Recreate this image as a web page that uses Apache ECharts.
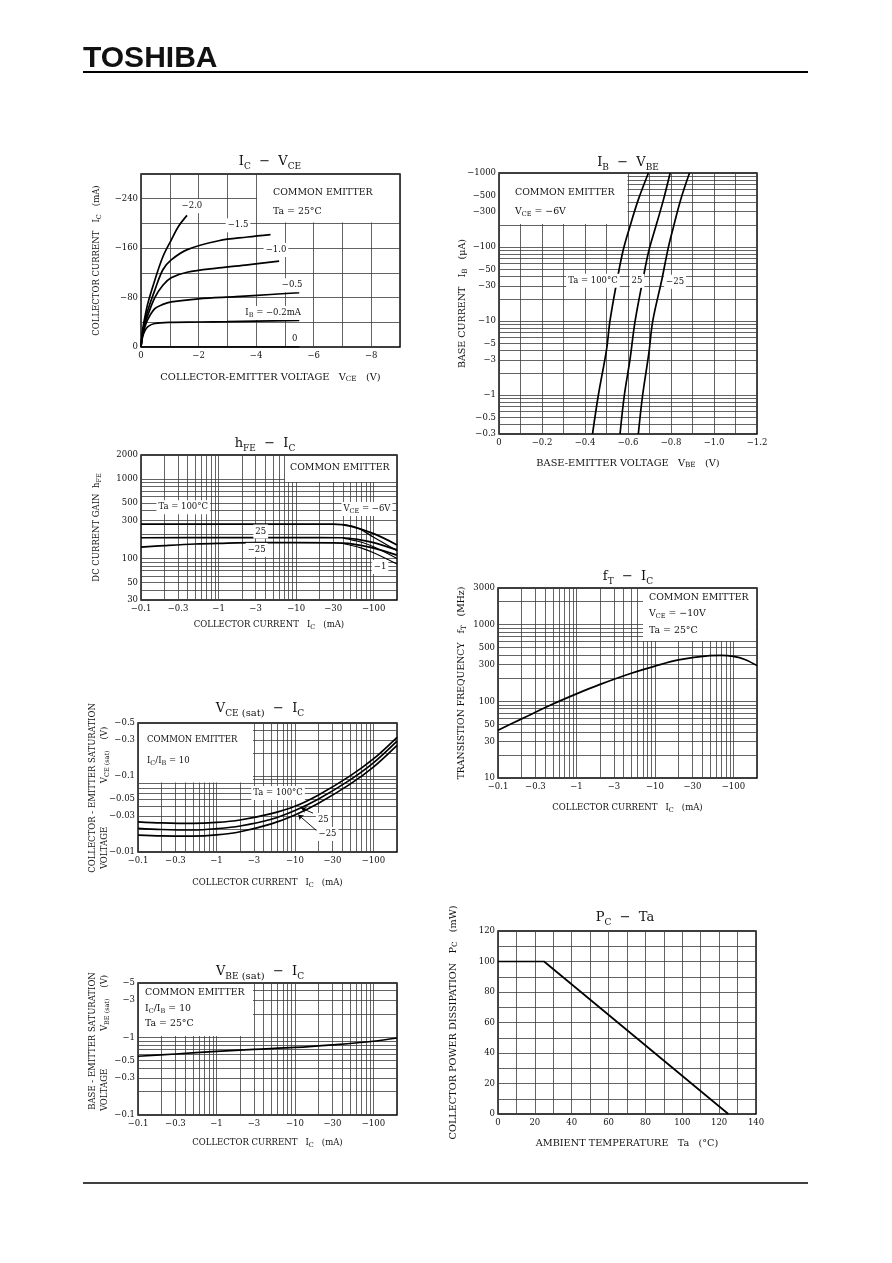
<!DOCTYPE html>
<html><head><meta charset="utf-8">
<script src="https://cdn.jsdelivr.net/npm/echarts@6/dist/echarts.min.js"></script>
<style>html,body{margin:0;padding:0;background:#fff;}#c{width:892px;height:1263px;}</style>
</head><body><div id="c"></div>
<script>
// ================= DATA (PNP transistor: currents / voltages are negative) =================
// --- IC – VCE : [VCE (V), IC (mA)], one curve per base current IB ---
const icVceIB = ['0', '-0.2', '-0.5', '-1.0', '-1.5', '-2.0'];
const icVce_IB0  = [[0,0],[-5.5,0]];
const icVce_IB02 = [[0,0],[-0.05,-15],[-0.12,-25],[-0.24,-33],[-0.48,-38],[-1.0,-40],[-2.0,-40.5],[-3.0,-41],[-4.0,-42],[-5.5,-43]];
const icVce_IB05 = [[0,0],[-0.05,-18],[-0.12,-30],[-0.24,-45],[-0.48,-62],[-0.76,-69],[-1.05,-73],[-2.0,-78],[-3.3,-81.5],[-4.5,-85],[-5.5,-88]];
const icVce_IB10 = [[0,0],[-0.05,-20],[-0.12,-35],[-0.24,-52],[-0.48,-80],[-0.76,-100],[-1.05,-112],[-1.6,-121],[-2.7,-128],[-3.7,-133],[-4.8,-139]];
const icVce_IB15 = [[0,0],[-0.05,-22],[-0.12,-40],[-0.24,-60],[-0.48,-92],[-0.76,-125],[-1.05,-141],[-1.63,-158],[-2.7,-172],[-3.7,-178],[-4.5,-182]];
const icVce_IB20 = [[0,0],[-0.05,-25],[-0.12,-45],[-0.24,-71],[-0.48,-108],[-0.76,-146],[-1.05,-173],[-1.3,-195],[-1.6,-213]];
const icVceTicksX = [0,-2,-4,-6,-8];
const icVceTicksY = [0,-80,-160,-240];

// --- IB – VBE : [VBE (V), IB (uA)] per ambient temperature ---
const ibVbeTa = ['100', '25', '-25'];
const ibVbe_100 = [[-0.435,-0.3],[-0.462,-1],[-0.50,-4.1],[-0.516,-10],[-0.547,-33],[-0.578,-92],[-0.609,-190],[-0.648,-437],[-0.695,-1000]];
const ibVbe_25  = [[-0.563,-0.3],[-0.583,-1],[-0.609,-3],[-0.633,-10],[-0.672,-40],[-0.698,-92],[-0.734,-211],[-0.765,-437],[-0.796,-1000]];
const ibVbe_m25 = [[-0.648,-0.3],[-0.668,-1],[-0.697,-3.7],[-0.715,-10],[-0.757,-36],[-0.788,-100],[-0.812,-190],[-0.845,-437],[-0.886,-1000]];
const ibVbeTicksX = [0,-0.2,-0.4,-0.6,-0.8,-1.0,-1.2];
const ibVbeTicksY = [-0.3,-0.5,-1,-3,-5,-10,-30,-50,-100,-300,-500,-1000];

// --- hFE – IC : [IC (mA), hFE] ---
const hfe_100_6V = [[-0.1,270],[-1,270],[-10,270],[-30,270],[-50,255],[-100,205],[-200,148]];
const hfe_100_1V = [[-40,268],[-60,245],[-100,185],[-200,125]];
const hfe_25_6V  = [[-0.1,182],[-1,183],[-10,183],[-40,182],[-70,170],[-100,158],[-200,128]];
const hfe_25_1V  = [[-40,180],[-70,160],[-100,140],[-200,100]];
const hfe_m25_6V = [[-0.1,139],[-0.2,145],[-0.5,152],[-1,155],[-3,158],[-10,158],[-40,156],[-100,135],[-200,110]];
const hfe_m25_1V = [[-40,154],[-70,135],[-100,118],[-200,85]];
const icLogTicks = [-0.1,-0.3,-1,-3,-10,-30,-100];
const hfeTicksY  = [30,50,100,300,500,1000,2000];

// --- VCE(sat) – IC : [IC (mA), VCE(sat) (V)] ---
const vcesat_100 = [[-0.1,-0.025],[-0.2,-0.0242],[-0.5,-0.0238],[-1,-0.0245],[-2,-0.0264],[-5,-0.032],[-10,-0.0400],[-20,-0.0565],[-50,-0.0998],[-100,-0.168],[-200,-0.324]];
const vcesat_25  = [[-0.1,-0.0205],[-0.2,-0.0198],[-0.5,-0.0195],[-1,-0.0203],[-2,-0.022],[-5,-0.027],[-10,-0.0352],[-20,-0.050],[-50,-0.0885],[-100,-0.149],[-200,-0.288]];
const vcesat_m25 = [[-0.1,-0.0167],[-0.2,-0.0163],[-0.5,-0.0162],[-1,-0.0168],[-2,-0.0185],[-5,-0.0235],[-10,-0.0308],[-20,-0.044],[-50,-0.0778],[-100,-0.131],[-200,-0.253]];
const vcesatTicksY = [-0.01,-0.03,-0.05,-0.1,-0.3,-0.5];

// --- fT – IC : [IC (mA), fT (MHz)] ---
const ftData = [[-0.1,42],[-0.2,59],[-0.5,92],[-1,125],[-2,166],[-5,232],[-10,288],[-20,347],[-50,394],[-70,398],[-100,385],[-140,351],[-200,292]];
const ftTicksY = [10,30,50,100,300,500,1000,3000];

// --- VBE(sat) – IC : [IC (mA), VBE(sat) (V)] ---
const vbesatData = [[-0.1,-0.57],[-0.3,-0.61],[-1,-0.66],[-3,-0.70],[-10,-0.74],[-30,-0.80],[-100,-0.89],[-200,-0.98]];
const vbesatTicksY = [-0.1,-0.3,-0.5,-1,-3,-5];

// --- PC – Ta : [Ta (degC), PC (mW)] ---
const pcData = [[0,100],[25,100],[125,0]];
const pcTicksX = [0,20,40,60,80,100,120,140];
const pcTicksY = [0,20,40,60,80,100,120];

// ================= STYLE / LAYOUT =================
const FONT = '"DejaVu Serif", "Liberation Serif", serif';
const INK = '#111';
const GRIDC = '#3c3c3c';
const SUB = {fontFamily: FONT, fontSize: 6.5, lineHeight: 6, verticalAlign: 'bottom', color: INK};
const RICH = {s: SUB};
const RICH_BIG = {s: {fontFamily: FONT, fontSize: 7.2, lineHeight: 6, verticalAlign: 'bottom', color: INK}};
const TRICH = {
  t: {fontFamily: FONT, fontSize: 9, lineHeight: 9, verticalAlign: 'bottom', color: INK},
  u: {fontFamily: FONT, fontSize: 10, lineHeight: 14, verticalAlign: 'bottom', color: INK}
};
const grids = [
  {left:141, top:174, width:259, height:173}, // 0 IC-VCE
  {left:499, top:173, width:258, height:261}, // 1 IB-VBE
  {left:141, top:455, width:256, height:145}, // 2 hFE-IC
  {left:138, top:723, width:259, height:129}, // 3 VCE(sat)-IC
  {left:498, top:588, width:259, height:190}, // 4 fT-IC
  {left:138, top:983, width:259, height:132}, // 5 VBE(sat)-IC
  {left:498, top:931, width:258, height:183}  // 6 PC-Ta
];

function neg(v) {
  if (Math.abs(v) < 1e-12) return '0';
  const a = +Math.abs(v).toPrecision(4);
  return (v < 0 ? '\u2212' : '') + a;
}
function decadeLines(lo, hi) {
  const out = [];
  for (let e = Math.floor(Math.log10(lo)) - 1; e <= Math.ceil(Math.log10(hi)); e++) {
    for (let m = 1; m <= 9; m++) {
      const v = +(m * Math.pow(10, e)).toPrecision(6);
      if (v >= lo * 0.9999 && v <= hi * 1.0001) out.push(v);
    }
  }
  return out;
}
const abs2 = d => d.map(p => [Math.abs(p[0]), Math.abs(p[1])]);
const absY = d => d.map(p => [p[0], Math.abs(p[1])]);
const absX = d => d.map(p => [Math.abs(p[0]), p[1]]);

const labelBase = {fontFamily: FONT, fontSize: 8.5, color: INK, hideOverlap: false, showMinLabel: true, showMaxLabel: true};

function common(gi, o) {
  const ns = o.nsize || 8.5;
  return {
    gridIndex: gi,
    axisLine: {show: false},
    splitLine: {show: true, lineStyle: {color: GRIDC, width: 0.8}},
    name: o.name || '', nameLocation: 'middle', nameGap: o.gap || 20, nameRotate: o.rot || 0,
    nameTextStyle: {fontFamily: FONT, fontSize: ns, color: INK, lineHeight: 12, rich: ns > 9 ? RICH_BIG : RICH},
    nameMoveOverlap: false
  };
}
function linAxis(gi, o) {
  return Object.assign(common(gi, o), {
    type: 'value', min: o.min, max: o.max, interval: o.interval, inverse: !!o.inverse,
    axisTick: {show: false},
    axisLabel: Object.assign({}, labelBase, {margin: o.margin || 4,
      formatter: v => o.labels.some(t => Math.abs(t - v) < 1e-6) ? o.fmt(v) : ''})
  });
}
function logAxis(gi, o) {
  return Object.assign(common(gi, o), {
    type: 'log', logBase: 10, min: o.min, max: o.max,
    axisTick: {show: false, customValues: decadeLines(o.min, o.max)},
    axisLabel: Object.assign({}, labelBase, {margin: o.margin || 4, customValues: o.labels, formatter: o.fmt})
  });
}
const negFmt = v => neg(-v);   // log axes hold magnitudes of negative quantities
const posFmt = v => String(+(+v).toPrecision(4));
const ICNAME = 'COLLECTOR CURRENT   I{s|C}   (mA)';

const xAxis = [
  linAxis(0, {min:-9, max:0, interval:1, inverse:true, labels: icVceTicksX, fmt: neg, name:'COLLECTOR-EMITTER VOLTAGE   V{s|CE}   (V)', gap:24, nsize:9.8}),
  linAxis(1, {min:-1.2, max:0, interval:0.1, inverse:true, labels: ibVbeTicksX, fmt: v => Math.abs(v) < 1e-9 ? '0' : '\u2212' + Math.abs(v).toFixed(1), name:'BASE-EMITTER VOLTAGE   V{s|BE}   (V)', gap:23, nsize:9.8}),
  logAxis(2, {min:0.1, max:200, labels: icLogTicks.map(Math.abs), fmt: negFmt, name: ICNAME, gap:19}),
  logAxis(3, {min:0.1, max:200, labels: icLogTicks.map(Math.abs), fmt: negFmt, name: ICNAME, gap:25}),
  logAxis(4, {min:0.1, max:200, labels: icLogTicks.map(Math.abs), fmt: negFmt, name: ICNAME, gap:24}),
  logAxis(5, {min:0.1, max:200, labels: icLogTicks.map(Math.abs), fmt: negFmt, name: ICNAME, gap:22}),
  linAxis(6, {min:0, max:140, interval:10, labels: pcTicksX, fmt: posFmt, name:'AMBIENT TEMPERATURE   Ta   (\u00b0C)', gap:23, nsize:9.7})
];
const yAxis = [
  linAxis(0, {min:-280, max:0, interval:40, inverse:true, labels: icVceTicksY, fmt: neg, name:'COLLECTOR CURRENT   I{s|C}   (mA)', gap:38, rot:90, margin:3}),
  logAxis(1, {min:0.3, max:1000, labels: ibVbeTicksY.map(Math.abs), fmt: negFmt, name:'BASE CURRENT   I{s|B}   (\u03bcA)', gap:30, rot:90, margin:3, nsize:9.5}),
  logAxis(2, {min:30, max:2000, labels: hfeTicksY, fmt: posFmt, name:'DC CURRENT GAIN  h{s|FE}', gap:38, rot:90, margin:3}),
  logAxis(3, {min:0.01, max:0.5, labels: vcesatTicksY.map(Math.abs), fmt: negFmt, margin:3}),
  logAxis(4, {min:10, max:3000, labels: ftTicksY, fmt: posFmt, name:'TRANSISTION FREQUENCY   f{s|T}   (MHz)', gap:30, rot:90, margin:3, nsize:9.3}),
  logAxis(5, {min:0.1, max:5, labels: vbesatTicksY.map(Math.abs), fmt: negFmt, margin:3}),
  linAxis(6, {min:0, max:120, interval:10, labels: pcTicksY, fmt: posFmt, name:'COLLECTOR POWER DISSIPATION   P{s|C}   (mW)', gap:39, rot:90, margin:3, nsize:9.7})
];

// ================= SERIES =================
const series = [];
function curve(gi, data, extra) {
  const s = Object.assign({
    type: 'line', xAxisIndex: gi, yAxisIndex: gi, data, symbol: 'none', showSymbol: false,
    smooth: 0.35, silent: true, animation: false, z: 3, clip: true,
    lineStyle: {color: '#000', width: 1.7}
  }, extra || {});
  series.push(s);
  return s;
}
function tags(items) {
  return {
    symbol: 'rect', symbolSize: 0, silent: true, animation: false, z: 7,
    itemStyle: {color: 'rgba(0,0,0,0)'},
    data: items.map(it => ({coord: it[0], value: 0, label: {
      show: true, position: 'inside', formatter: it[1], fontFamily: FONT, fontSize: 8.5, color: INK,
      backgroundColor: '#fff', padding: [1, 2], lineHeight: 12, rich: RICH}}))
  };
}
function arrows(pairs) {
  return {
    silent: true, animation: false, symbol: ['none', 'arrow'], symbolSize: 5,
    label: {show: false}, lineStyle: {color: '#000', width: 0.9, type: 'solid'},
    data: pairs.map(p => [{coord: p[0]}, {coord: p[1]}])
  };
}

// chart 0: IC-VCE
curve(0, icVce_IB0, {smooth: false});
curve(0, icVce_IB02);
curve(0, icVce_IB05);
curve(0, icVce_IB10);
curve(0, icVce_IB15);
curve(0, icVce_IB20, {markPoint: tags([
  [[-1.77,-228], '\u2212' + icVceIB[5].slice(1)],
  [[-3.37,-197], '\u2212' + icVceIB[4].slice(1)],
  [[-4.69,-157], '\u2212' + icVceIB[3].slice(1)],
  [[-5.25,-100], '\u2212' + icVceIB[2].slice(1)],
  [[-4.59,-55], 'I{s|B} = \u2212' + icVceIB[1].slice(1) + 'mA'],
  [[-5.34,-14], icVceIB[0]]
])});

// chart 1: IB-VBE
curve(1, absY(ibVbe_100));
curve(1, absY(ibVbe_25));
curve(1, absY(ibVbe_m25), {markPoint: tags([
  [[-0.437,35], 'Ta = ' + ibVbeTa[0] + '\u00b0C'],
  [[-0.642,35], ibVbeTa[1]],
  [[-0.819,34], '\u2212' + ibVbeTa[2].slice(1)]
])});

// chart 2: hFE-IC
curve(2, absX(hfe_100_6V));
curve(2, absX(hfe_100_1V), {lineStyle: {color:'#000', width: 1.2}});
curve(2, absX(hfe_25_6V));
curve(2, absX(hfe_25_1V), {lineStyle: {color:'#000', width: 1.2}});
curve(2, absX(hfe_m25_6V));
curve(2, absX(hfe_m25_1V), {lineStyle: {color:'#000', width: 1.2}, markPoint: tags([
  [[0.35,440], 'Ta = 100\u00b0C'],
  [[3.5,218], '25'],
  [[3.1,128], '\u221225'],
  [[82,420], 'V{s|CE} = \u22126V'],
  [[121,78], '\u22121']
])});

// chart 3: VCE(sat)-IC
curve(3, abs2(vcesat_100));
curve(3, abs2(vcesat_25));
curve(3, abs2(vcesat_m25), {
  markPoint: tags([
    [[6.1,0.06], 'Ta = 100\u00b0C'],
    [[23,0.0265], '25'],
    [[26,0.0173], '\u221225']
  ]),
  markLine: arrows([
    [[17,0.0325],[12,0.038]],
    [[19,0.019],[11,0.031]]
  ])
});

// chart 4: fT-IC
curve(4, abs2(ftData));
// chart 5: VBE(sat)-IC
curve(5, abs2(vbesatData));
// chart 6: PC-Ta
curve(6, pcData, {smooth: false});

// ================= GRAPHIC (header, titles, condition boxes) =================
const G = [];
function gtext(x, y, text, o) {
  o = o || {};
  G.push({type: 'text', x, y, z: 8, silent: true, rotation: o.rot || 0, style: {
    text, fill: INK, fontFamily: o.family || FONT, fontSize: o.size || 8.5, fontWeight: o.weight || 'normal',
    align: o.align || 'left', verticalAlign: 'middle', lineHeight: o.lh || 12, rich: o.rich || RICH}});
}
function box(x1, y1, x2, y2) {
  G.push({type: 'rect', z: 1, silent: true, shape: {x: x1, y: y1, width: x2 - x1, height: y2 - y1}, style: {fill: '#fff'}});
}
const bt = {size: 9.4};
// header / footer
gtext(83, 59, 'TOSHIBA', {family: '"Liberation Sans", Arial, sans-serif', size: 30, weight: 'bold', lh: 32});
G.push({type: 'line', silent: true, shape: {x1: 83, y1: 72, x2: 808, y2: 72}, style: {stroke: '#000', lineWidth: 2}});
G.push({type: 'line', silent: true, shape: {x1: 83, y1: 1183, x2: 808, y2: 1183}, style: {stroke: '#000', lineWidth: 1.5}});
// titles
const tt = {size: 13, lh: 18, rich: TRICH, align: 'center'};
gtext(270, 162, 'I{t|C}  \u2212  V{t|CE}', tt);
gtext(628, 163, 'I{t|B}  \u2212  V{t|BE}', tt);
gtext(265, 444, 'h{t|FE}  \u2212  I{t|C}', tt);
gtext(260, 709, 'V{t|CE}{u| (sat)}  \u2212  I{t|C}', tt);
gtext(628, 577, 'f{t|T}  \u2212  I{t|C}', tt);
gtext(260, 972, 'V{t|BE}{u| (sat)}  \u2212  I{t|C}', tt);
gtext(625, 918, 'P{t|C}  \u2212  Ta', tt);
// condition boxes
box(257, 175, 399, 222.5);
gtext(273, 193, 'COMMON EMITTER', bt); gtext(273, 212, 'Ta = 25\u00b0C', bt);
box(500, 174, 627.5, 224);
gtext(515, 193, 'COMMON EMITTER', bt); gtext(515, 212, 'V{s|CE} = \u22126V', bt);
box(285, 456, 396, 482);
gtext(290, 468, 'COMMON EMITTER', bt);
box(139, 724, 253, 782.5);
gtext(147, 740, 'COMMON EMITTER'); gtext(147, 761, 'I{s|C}/I{s|B} = 10');
box(643, 589, 756, 641);
gtext(649, 598, 'COMMON EMITTER', bt); gtext(649, 614, 'V{s|CE} = \u221210V', bt); gtext(649, 631, 'Ta = 25\u00b0C', bt);
box(139, 984, 253, 1036);
gtext(145, 993, 'COMMON EMITTER', bt); gtext(145, 1009, 'I{s|C}/I{s|B} = 10', bt); gtext(145, 1024, 'Ta = 25\u00b0C', bt);
// two-line y-axis titles
const R = Math.PI / 2;
gtext(93, 788, 'COLLECTOR - EMITTER SATURATION', {rot: R, align: 'center'});
gtext(105, 755, 'V{s|CE (sat)}    (V)', {rot: R, align: 'center'});
gtext(105, 848, 'VOLTAGE', {rot: R, align: 'center'});
gtext(93, 1041, 'BASE - EMITTER SATURATION', {rot: R, align: 'center'});
gtext(105, 1003, 'V{s|BE (sat)}    (V)', {rot: R, align: 'center'});
gtext(105, 1090, 'VOLTAGE', {rot: R, align: 'center'});

const option = {
  animation: false,
  backgroundColor: '#fff',
  grid: grids.map(g => Object.assign({show: true, borderColor: '#000', borderWidth: 1.4,
    backgroundColor: 'rgba(0,0,0,0)', containLabel: false, outerBoundsMode: 'none'}, g)),
  xAxis, yAxis, series, graphic: G
};
const chart = echarts.init(document.getElementById('c'), null, {renderer: 'canvas'});
chart.setOption(option);
</script></body></html>
